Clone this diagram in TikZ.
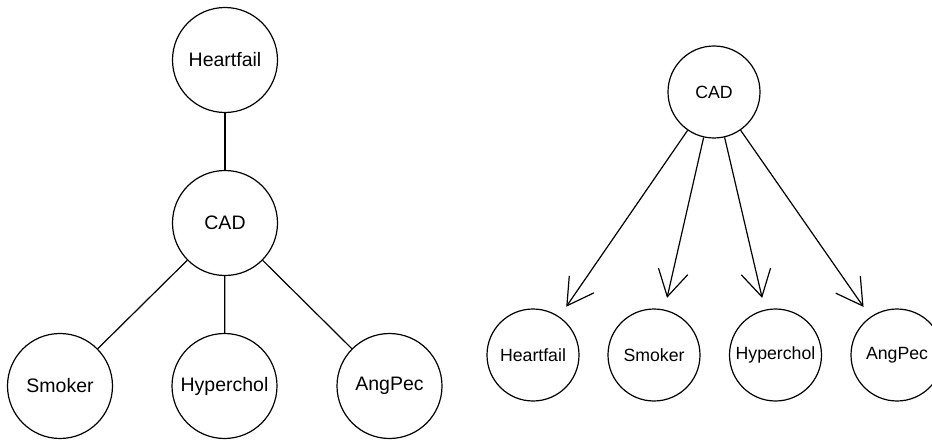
\documentclass[tikz,border=0pt]{standalone}
\usepackage{fontspec}
\setmainfont{Liberation Sans}
\usetikzlibrary{arrows.meta}
\begin{document}
\begin{tikzpicture}[x=1pt,y=-1pt,
  line width=1.2pt,
  bignode/.style={circle,draw,minimum size=105pt,inner sep=0pt,font=\fontsize{19.5pt}{22pt}\selectfont},
  smallnode/.style={circle,draw,minimum size=92pt,inner sep=0pt,font=\fontsize{17.7pt}{20pt}\selectfont},
  edge/.style={draw},
  dirEdge/.style={draw,-{Straight Barb[length=26pt,width=30pt]},shorten >=12pt}]
\useasboundingbox (0,0) rectangle (932,441);

% undirected graph
\node[bignode] (hf1) at (225,60) {Heartfail};
\node[bignode] (cad1) at (225,223) {CAD};
\node[bignode] (sm1) at (60,386) {Smoker};
\node[bignode] (hy1) at (224.5,386) {Hyperchol};
\node[bignode] (ap1) at (389.5,386) {AngPec};
\path[edge] (hf1) -- (cad1);
\path[edge] (cad1) -- (sm1);
\path[edge] (cad1) -- (hy1);
\path[edge] (cad1) -- (ap1);

% directed graph
\node[smallnode] (cad2) at (714,92) {CAD};
\node[smallnode] (hf2) at (533,355) {Heartfail};
\node[smallnode] (sm2) at (654,355) {Smoker};
\node[smallnode] (hy2) at (775.5,355) {Hyperchol};
\node[smallnode] (ap2) at (897,355) {AngPec};
\path[dirEdge] (cad2) -- (hf2);
\path[dirEdge] (cad2) -- (sm2);
\path[dirEdge] (cad2) -- (hy2);
\path[dirEdge] (cad2) -- (ap2);
\end{tikzpicture}
\end{document}
